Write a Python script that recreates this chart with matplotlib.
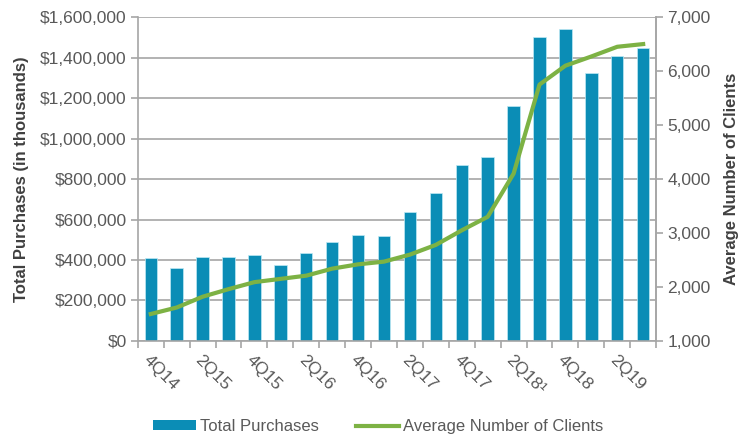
import numpy as np
import matplotlib as mpl
mpl.use('Agg')
import matplotlib.pyplot as plt
from matplotlib.patches import Patch
from matplotlib.lines import Line2D
from matplotlib.ticker import FuncFormatter, MultipleLocator

mpl.rcParams['font.family'] = ['Liberation Sans', 'DejaVu Sans']

quarters = ['4Q14', '1Q15', '2Q15', '3Q15', '4Q15', '1Q16', '2Q16', '3Q16', '4Q16', '1Q17',
            '2Q17', '3Q17', '4Q17', '1Q18', '2Q18\u00b9', '3Q18', '4Q18', '1Q19', '2Q19', '3Q19']
purchases = [410000, 360000, 415000, 415000, 425000, 375000, 435000, 489000, 523000, 519000,
             637000, 731000, 869000, 909000, 1160000, 1501000, 1541000, 1323000, 1407000, 1447000]
clients = [1500, 1620, 1820, 1960, 2090, 2150, 2210, 2340, 2420, 2470,
           2600, 2780, 3050, 3300, 4100, 5750, 6100, 6270, 6450, 6500]

bar_color = '#0b8db6'
line_color = '#7db244'
grid_color = '#a6a6a6'
text_color = '#595959'

fig = plt.figure(figsize=(7.49, 4.38), dpi=100, facecolor='w')
ax = fig.add_axes([0.184, 0.2215, 0.692, 0.7395])
x = np.arange(len(quarters))

ax.bar(x, purchases, width=0.48, color=bar_color, edgecolor='#bfeaf5', lw=0.5, zorder=2)
ax.set_xlim(-0.5, len(quarters) - 0.5)
ax.set_ylim(0, 1600000)
ax.yaxis.set_major_locator(MultipleLocator(200000))
ax.yaxis.set_major_formatter(FuncFormatter(lambda v, p: '${:,.0f}'.format(v)))
ax.grid(axis='y', color=grid_color, lw=1.2, zorder=0)
ax.set_axisbelow(True)

# category labels on every other quarter, tick marks between categories
ax.set_xticks(x[::2])
ax.set_xticklabels(quarters[::2], rotation=-45, ha='left', va='top',
                   rotation_mode='anchor', fontsize=12.5, color=text_color)
ax.set_xticks(np.arange(-0.5, len(quarters)), minor=True)
ax.tick_params(axis='x', which='major', length=0, pad=8)
ax.tick_params(axis='x', which='minor', length=5, color=grid_color, width=1.2)
ax.tick_params(axis='y', length=5, color=grid_color, width=1.2, labelsize=12.5,
               labelcolor=text_color, pad=3)
for s in ['left', 'bottom', 'right']:
    ax.spines[s].set_color(grid_color)
    ax.spines[s].set_linewidth(1.2)
ax.spines['top'].set_visible(False)
ax.set_ylabel('Total Purchases (in thousands)', fontsize=12, fontweight='bold',
              color='#404040', labelpad=8)

ax2 = ax.twinx()
ax2.plot(x, clients, color=line_color, lw=3, zorder=3)
ax2.set_ylim(1000, 7000)
ax2.yaxis.set_major_locator(MultipleLocator(1000))
ax2.yaxis.set_major_formatter(FuncFormatter(lambda v, p: '{:,.0f}'.format(v)))
ax2.tick_params(axis='y', length=5, color=grid_color, width=1.2, labelsize=12.5,
                labelcolor=text_color, pad=3)
for s in ['left', 'bottom', 'top']:
    ax2.spines[s].set_visible(False)
ax2.spines['right'].set_color(grid_color)
ax2.spines['right'].set_linewidth(1.2)
ax2.set_ylabel('Average Number of Clients', fontsize=12, fontweight='bold',
               color='#404040', labelpad=10)

handles = [Patch(facecolor=bar_color, edgecolor='none'),
           Line2D([0], [0], color=line_color, lw=3)]
fig.legend(handles, ['Total Purchases', 'Average Number of Clients'], ncol=2,
           loc='lower center', bbox_to_anchor=(0.505, -0.025), frameon=False,
           fontsize=12, labelcolor=text_color, handlelength=2.6, handleheight=0.5,
           handletextpad=0.25, columnspacing=2.2)

fig.savefig('out.png', dpi=100, facecolor='w')
